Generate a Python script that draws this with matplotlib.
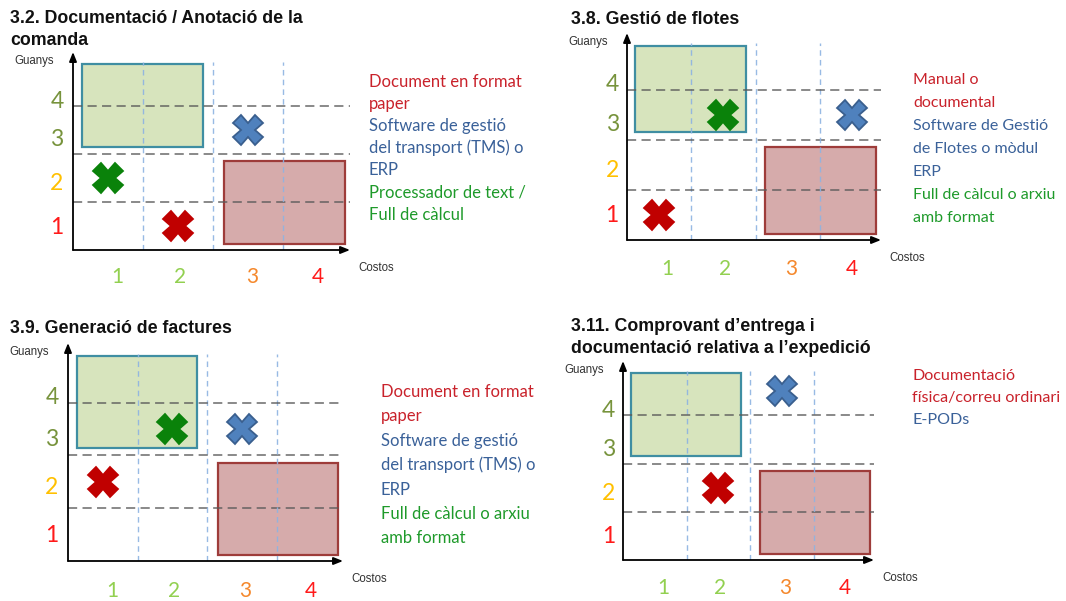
import matplotlib
matplotlib.use("Agg")
import matplotlib.pyplot as plt
from matplotlib.patches import Rectangle

# ---- content -------------------------------------------------------------
titles = [
    ["3.2. Documentació / Anotació de la", "comanda"],
    ["3.8. Gestió de flotes"],
    ["3.9. Generació de factures"],
    ["3.11. Comprovant d\u2019entrega i", "documentació relativa a l\u2019expedició"],
]

score_labels = ["1", "2", "3", "4"]
cost_label_colors = ["#92D050", "#92D050", "#F5882C", "#FF1A1A"]
gain_label_colors = ["#FF1A1A", "#FFC000", "#77933C", "#77933C"]

# (cost, gain) score of each option per panel; None = option not shown
red_cost = [2, 1, 1, 2]
red_gain = [1, 1, 2, 2]
blue_cost = [3, 4, 3, 3]
blue_gain = [3, 3, 3, 4]
green_cost = [1, 2, 2, None]
green_gain = [2, 3, 3, None]

legend_text = [
    ["Document en format", "paper", "Software de gestió", "del transport (TMS) o",
     "ERP", "Processador de text /", "Full de càlcul"],
    ["Manual o", "documental", "Software de Gestió", "de Flotes o mòdul",
     "ERP", "Full de càlcul o arxiu", "amb format"],
    ["Document en format", "paper", "Software de gestió", "del transport (TMS) o",
     "ERP", "Full de càlcul o arxiu", "amb format"],
    ["Documentació", "física/correu ordinari", "E-PODs"],
]
legend_kind = [
    ["r", "r", "b", "b", "b", "g", "g"],
    ["r", "r", "b", "b", "b", "g", "g"],
    ["r", "r", "b", "b", "b", "g", "g"],
    ["r", "r", "b"],
]

# ---- styling -------------------------------------------------------------
W, H = 1066, 601
TEXT_COL = {"r": "#C9222B", "b": "#3A6199", "g": "#1E9A2A"}
MARK_FACE = {"r": "#C00000", "b": "#4F81BD", "g": "#0A820A"}
MARK_EDGE = {"r": "#C00000", "b": "#3A5F8E", "g": "#0A820A"}
TITLE_FONT = ["Liberation Sans"]
BODY_FONT = ["Lato", "DejaVu Sans"]
XMAX, YMAX = 3.95, 4.13
ROW_Y = [0.52, 1.43, 2.34, 3.14]
COL_X = [0.63, 1.52, 2.55, 3.49]

# pixel geometry of each panel: axis origin, x-arrow end, y-arrow top,
# title x / baselines, legend x / first baseline / line step / font size
layout = [
    dict(ox=73, oy=250, xe=350, yt=52, tx=10, tb=[23, 45],
         lx=369, lb=87, ls=22.1, lf=12.0),
    dict(ox=627, oy=240, xe=881, yt=33, tx=571, tb=[24],
         lx=913, lb=84, ls=23.0, lf=11.5),
    dict(ox=68, oy=561, xe=343, yt=343, tx=10, tb=[333],
         lx=381, lb=397, ls=24.4, lf=12.0),
    dict(ox=623, oy=560, xe=874, yt=361, tx=571, tb=[331, 353],
         lx=912, lb=380, ls=21.8, lf=11.6),
]

fig = plt.figure(figsize=(W / 100, H / 100), dpi=100)


def fx(px):
    return px / W


def fy(py):
    return 1 - py / H


for i, g in enumerate(layout):
    ax = fig.add_axes([fx(g["ox"]), fy(g["oy"]),
                       (g["xe"] - g["ox"]) / W, (g["oy"] - g["yt"]) / H])
    ax.set_xlim(0, XMAX)
    ax.set_ylim(0, YMAX)
    ax.axis("off")

    # highlighted zones
    ax.add_patch(Rectangle((0.13, 2.15), 1.72, 1.73, facecolor="#D7E4BD",
                           edgecolor="#3F8EA2", lw=1.6, zorder=1))
    ax.add_patch(Rectangle((2.15, 0.12), 1.73, 1.73, facecolor="#D6ABAB",
                           edgecolor="#9E3C3A", lw=1.6, zorder=1))

    # category boundaries
    for k in (1, 2, 3):
        ax.plot([k, k], [0, 3.93], color="#8DB3E2", lw=1.0,
                ls=(0, (4, 3)), zorder=2, alpha=0.9)
        ax.plot([0, XMAX], [k, k], color="#595959", lw=1.1,
                ls=(0, (6, 3.5)), zorder=2, alpha=0.9)

    # axes with arrows
    arrow = dict(arrowstyle="-|>,head_length=0.55,head_width=0.22",
                 color="black", lw=1.3, shrinkA=0, shrinkB=0)
    ax.annotate("", xy=(XMAX, 0), xytext=(0, 0), arrowprops=arrow,
                annotation_clip=False, zorder=3)
    ax.annotate("", xy=(0, YMAX), xytext=(0, 0), arrowprops=arrow,
                annotation_clip=False, zorder=3)

    # score labels
    for j in range(4):
        ax.text(-0.23, ROW_Y[j], score_labels[j], color=gain_label_colors[j],
                fontsize=16.5, family=BODY_FONT, ha="center",
                va="center_baseline", clip_on=False)
        ax.text(COL_X[j], -0.53, score_labels[j], color=cost_label_colors[j],
                fontsize=15, family=BODY_FONT, ha="center",
                va="center_baseline", clip_on=False)

    # options
    for kind, cs, gs in (("g", green_cost, green_gain),
                         ("r", red_cost, red_gain),
                         ("b", blue_cost, blue_gain)):
        if cs[i] is None:
            continue
        ax.plot([cs[i] - 0.5], [gs[i] - 0.5], marker="X", ms=21,
                mfc=MARK_FACE[kind], mec=MARK_EDGE[kind], mew=1.3,
                ls="none", zorder=4)

    # axis names
    fig.text(fx(g["ox"] - 19), fy(g["yt"] + 9), "Guanys", ha="right",
             va="center", fontsize=8.3, family="Liberation Sans",
             color="#333333")
    fig.text(fx(g["xe"] + 8), fy(g["oy"] + 18), "Costos", ha="left",
             va="center", fontsize=8.3, family="Liberation Sans",
             color="#333333")

    # title
    for line, b in zip(titles[i], g["tb"]):
        fig.text(fx(g["tx"]), fy(b), line, ha="left", va="baseline",
                 fontsize=12.8, fontweight="bold", family=TITLE_FONT,
                 color="#111111")

    # legend text
    for n, (txt, kind) in enumerate(zip(legend_text[i], legend_kind[i])):
        fig.text(fx(g["lx"]), fy(g["lb"] + n * g["ls"]), txt, ha="left",
                 va="baseline", fontsize=g["lf"], family=BODY_FONT,
                 color=TEXT_COL[kind])

fig.savefig("out.png", dpi=100, facecolor="white")
